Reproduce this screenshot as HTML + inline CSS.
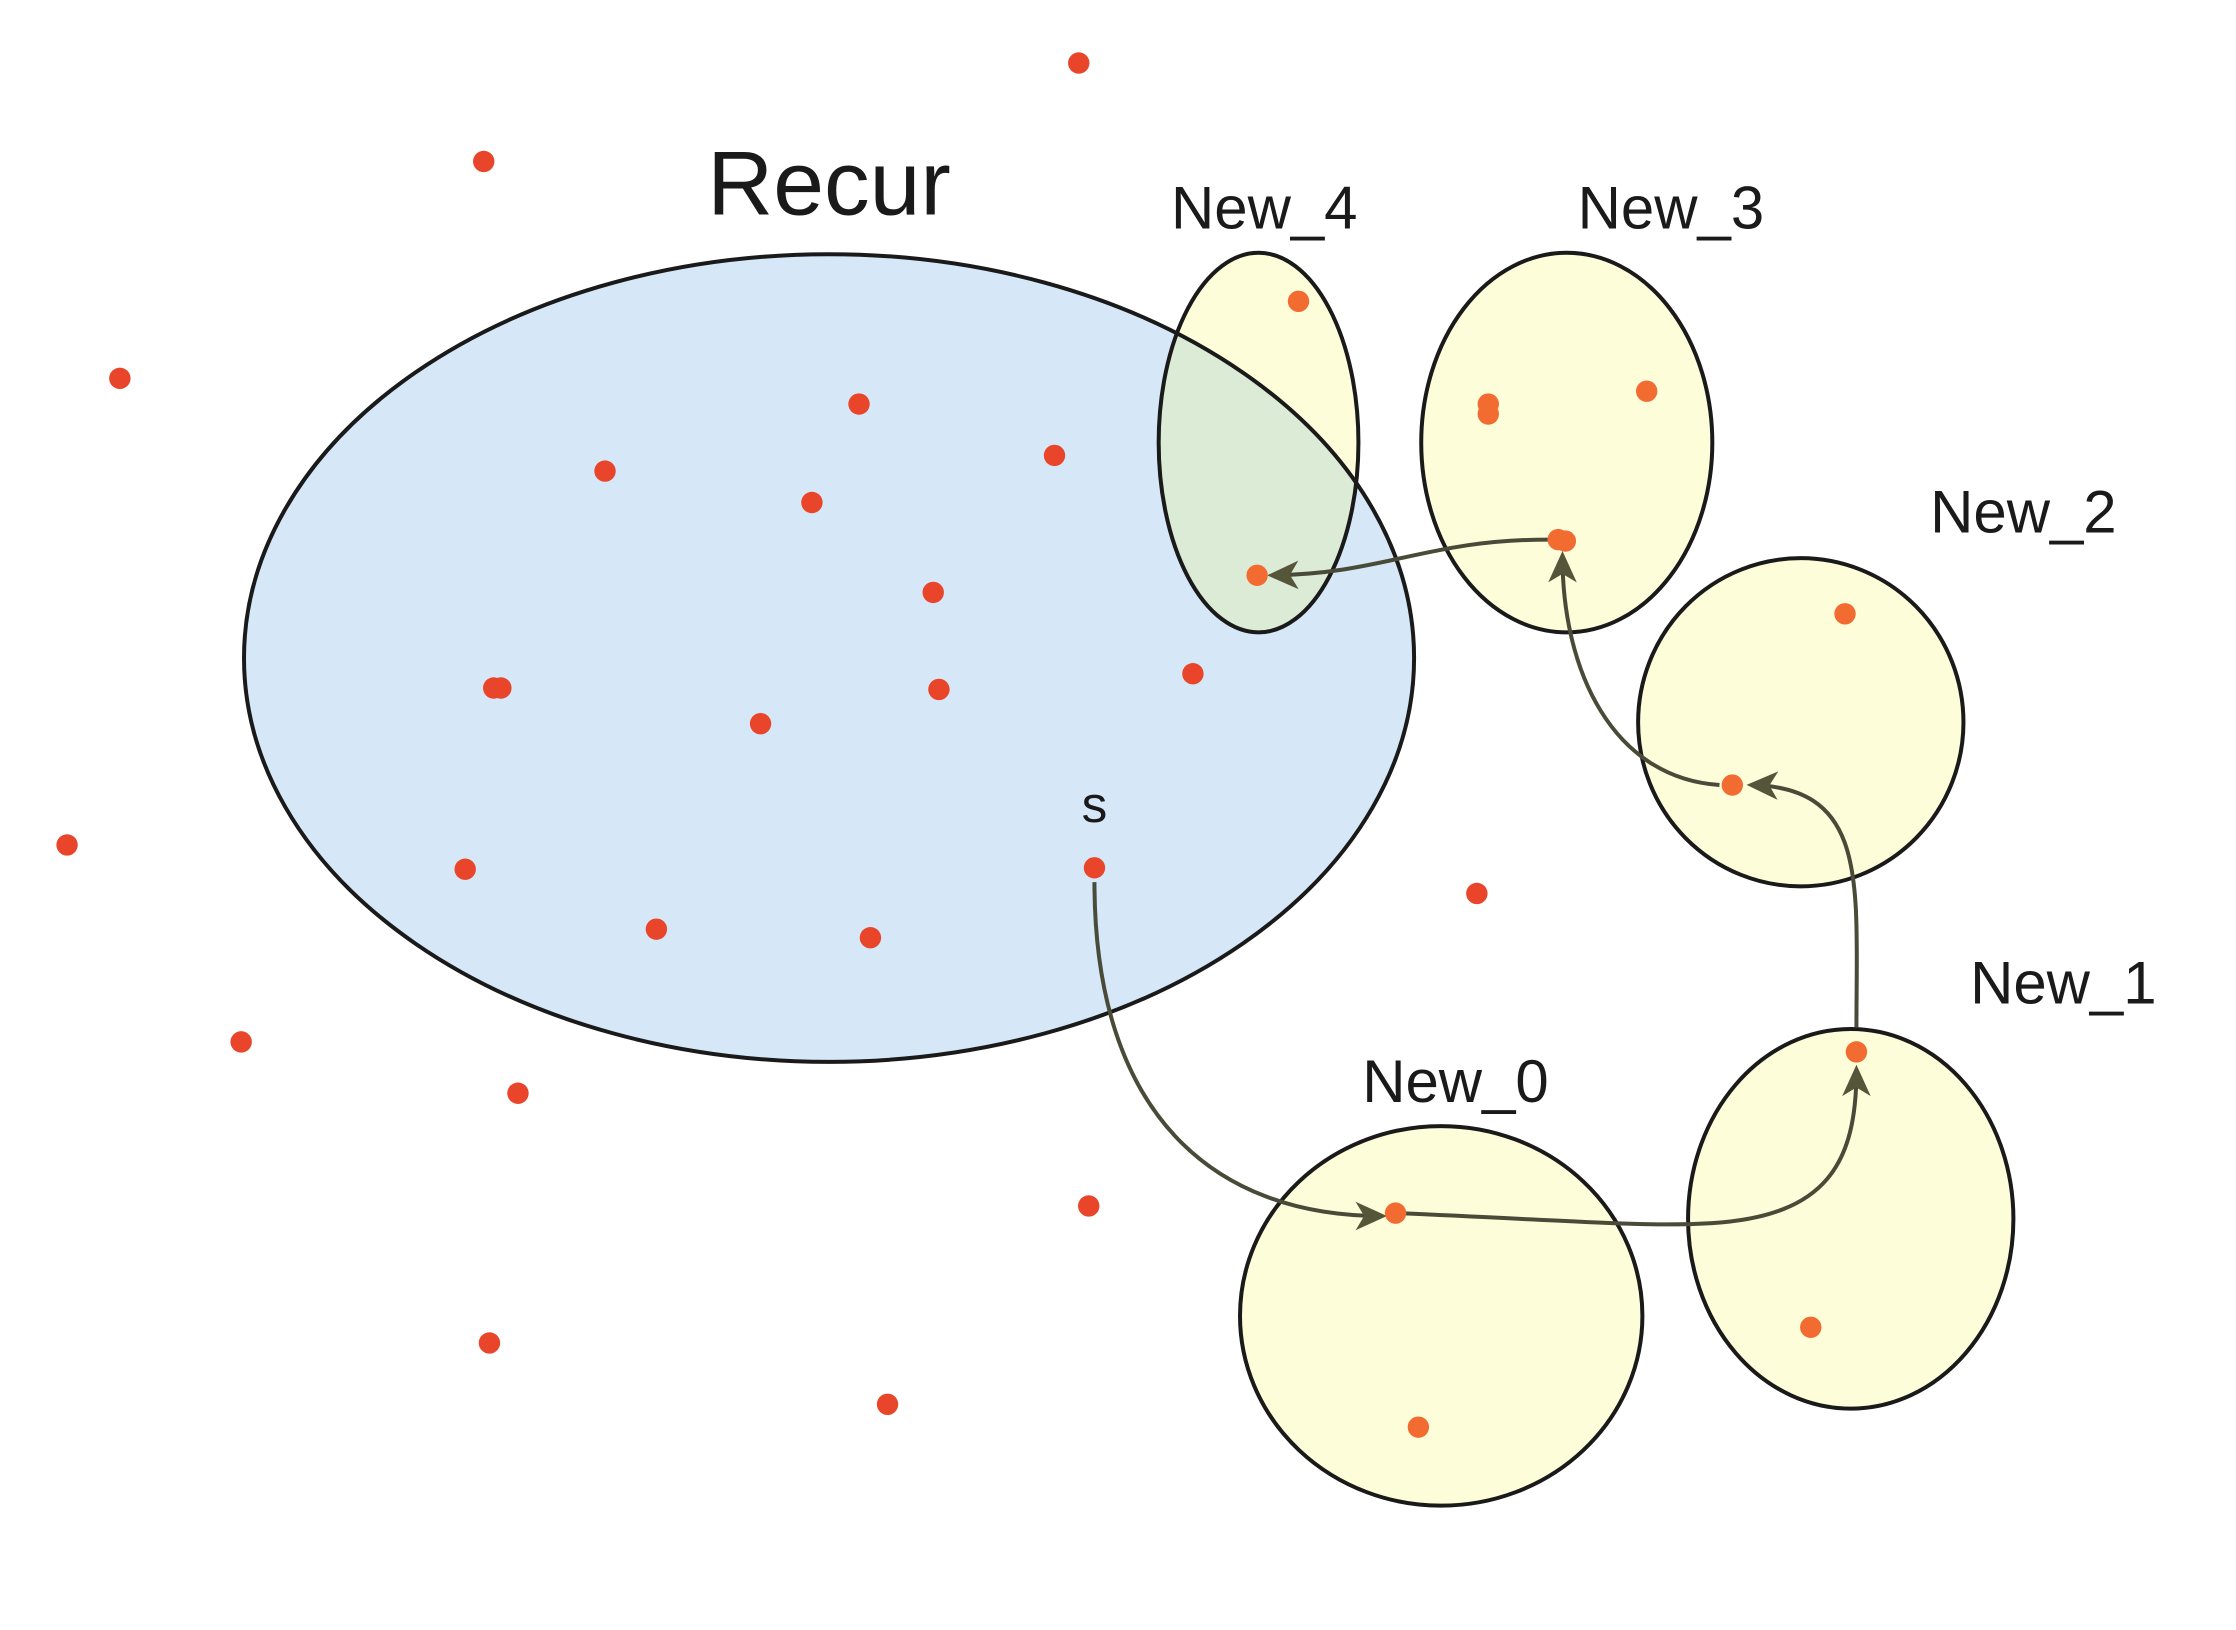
<!DOCTYPE html>
<html><head><style>html,body{margin:0;padding:0;background:#fff}svg{display:block}</style></head>
<body>
<svg width="2236" height="1630" viewBox="0 0 1567 1142" xmlns="http://www.w3.org/2000/svg" font-family="'Liberation Sans','DejaVu Sans',sans-serif">
<defs>
<clipPath id="rc"><ellipse cx="581" cy="461" rx="410" ry="283"/></clipPath>
<marker id="ah" viewBox="0 0 22 22" refX="18" refY="11" markerWidth="22" markerHeight="22" markerUnits="userSpaceOnUse" orient="auto">
<path d="M0,1 L22,11 L0,21 L6,11 z" fill="#55553a"/></marker>
</defs>
<ellipse cx="581" cy="461" rx="410" ry="283" fill="#d6e8f8"/>
<ellipse cx="882" cy="310" rx="70" ry="133" fill="#fefdd9"/>
<ellipse cx="882" cy="310" rx="70" ry="133" fill="#dcebd6" clip-path="url(#rc)"/>
<g fill="#fefdd9" stroke="#1a1a1a" stroke-width="2.8">
<ellipse cx="1098" cy="310" rx="102" ry="133"/>
<ellipse cx="1262" cy="506" rx="114" ry="115"/>
<ellipse cx="1297" cy="854" rx="114" ry="133"/>
<ellipse cx="1010" cy="922" rx="141" ry="133"/>
</g>
<g fill="none" stroke="#1a1a1a" stroke-width="2.8">
<ellipse cx="581" cy="461" rx="410" ry="283"/>
<ellipse cx="882" cy="310" rx="70" ry="133"/>
</g>
<g fill="none" stroke="#4a4a38" stroke-width="2.8">
<path d="M767,618 C767,780 850,852 968,852" marker-end="url(#ah)"/>
<path d="M978,850 C1100,855 1150,860 1200,857 C1280,852 1301,815 1301,750" marker-end="url(#ah)"/>
<path d="M1301,720 C1301,620 1310,552 1228,550" marker-end="url(#ah)"/>
<path d="M1205,550 C1130,545 1095,470 1095,390" marker-end="url(#ah)"/>
<path d="M1085,378 C1000,378 970,402 892,403" marker-end="url(#ah)"/>
</g>
<g fill="#e8452a">
<circle cx="756" cy="44" r="7.5"/><circle cx="339" cy="113" r="7.5"/><circle cx="84" cy="265" r="7.5"/>
<circle cx="602" cy="283" r="7.5"/><circle cx="424" cy="330" r="7.5"/><circle cx="739" cy="319" r="7.5"/>
<circle cx="569" cy="352" r="7.5"/><circle cx="654" cy="415" r="7.5"/><circle cx="346" cy="482" r="7.5"/><circle cx="351" cy="482" r="7.5"/>
<circle cx="658" cy="483" r="7.5"/><circle cx="533" cy="507" r="7.5"/><circle cx="836" cy="472" r="7.5"/>
<circle cx="47" cy="592" r="7.5"/><circle cx="326" cy="609" r="7.5"/><circle cx="767" cy="608" r="7.5"/>
<circle cx="460" cy="651" r="7.5"/><circle cx="610" cy="657" r="7.5"/><circle cx="1035" cy="626" r="7.5"/>
<circle cx="169" cy="730" r="7.5"/><circle cx="363" cy="766" r="7.5"/><circle cx="763" cy="845" r="7.5"/>
<circle cx="343" cy="941" r="7.5"/><circle cx="622" cy="984" r="7.5"/>
</g>
<g fill="#f26b30">
<circle cx="910" cy="211" r="7.5"/><circle cx="1043" cy="283" r="7.5"/><circle cx="1043" cy="290" r="7.5"/>
<circle cx="1154" cy="274" r="7.5"/><circle cx="881" cy="403" r="7.5"/><circle cx="1092" cy="378" r="7.5"/><circle cx="1097" cy="379" r="7.5"/>
<circle cx="1293" cy="430" r="7.5"/><circle cx="1214" cy="550" r="7.5"/><circle cx="1301" cy="737" r="7.5"/>
<circle cx="978" cy="850" r="7.5"/><circle cx="1269" cy="930" r="7.5"/><circle cx="994" cy="1000" r="7.5"/>
</g>
<g fill="#1a1a1a" text-anchor="middle">
<text x="581" y="150" font-size="64">Recur</text>
<text x="886" y="160" font-size="42">New_4</text>
<text x="1171" y="160" font-size="42">New_3</text>
<text x="1418" y="373" font-size="42">New_2</text>
<text x="1446" y="703" font-size="42">New_1</text>
<text x="1020" y="772" font-size="42">New_0</text>
<text x="767" y="576" font-size="36">s</text>
</g>
</svg>
</body></html>
